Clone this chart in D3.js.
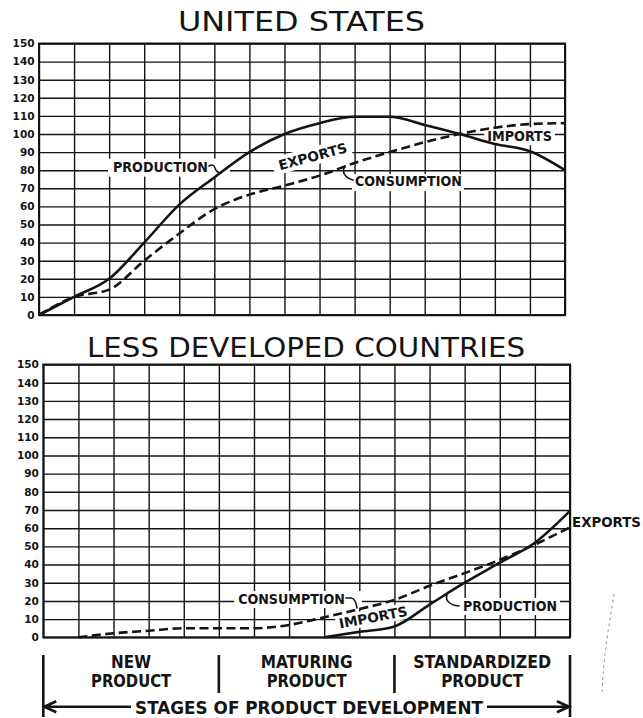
<!DOCTYPE html>
<html><head><meta charset="utf-8">
<script src="https://cdn.jsdelivr.net/npm/d3@7"></script>
<style>body{margin:0;background:#fff}svg{display:block}</style>
</head><body>
<svg id="c" width="643" height="718"></svg>
<script>
// ---------------- data ----------------
const columns = d3.range(0, 16);             // 15 time intervals of product life
const yTicks = d3.range(0, 151, 10);         // 0 ... 150
const usCols = d3.range(0, 16);
const usProduction  = [0, 10, 20, 40, 61, 76, 90, 100, 106, 109.5, 109.5, 105, 100, 94.5, 90.5, 80];
const usConsumption = [0, 10, 14, 30, 45, 58.5, 66.5, 71.5, 77, 84, 90, 95.5, 100, 103.5, 105.5, 106];
const ldcConsumptionCols = d3.range(1, 16);
const ldcConsumption = [0, 2.2, 3.6, 5, 5, 5, 6.8, 11, 15.5, 20.6, 28.3, 35.3, 42.6, 51, 60.5];
const ldcProductionCols = d3.range(8, 16);
const ldcProduction = [0, 3, 6, 18, 30, 41, 52, 69.5];
const panelTitles = ["UNITED STATES", "LESS DEVELOPED COUNTRIES"];
const stageLabels = [["NEW", "PRODUCT"], ["MATURING", "PRODUCT"], ["STANDARDIZED", "PRODUCT"]];
const stageBounds = [0, 5, 10, 15];
const axisTitle = "STAGES OF PRODUCT DEVELOPMENT";

// ---------------- drawing ----------------
const svg = d3.select("#c");
const LABEL_FONT = "'DejaVu Sans Condensed','DejaVu Sans',sans-serif";
const TITLE_FONT = "'DejaVu Sans','Liberation Sans',sans-serif";
const INK = "#141414";

function makePanel(cfg) {
  const x = d3.scaleLinear().domain([0, 15]).range([cfg.left, cfg.right]);
  const y = d3.scaleLinear().domain([0, 150]).range([cfg.bottom, cfg.top]);
  const g = svg.append("g");
  g.append("text").text(cfg.title)
    .attr("x", cfg.titleX).attr("y", cfg.titleY)
    .attr("textLength", cfg.titleW).attr("lengthAdjust", "spacingAndGlyphs")
    .attr("font-family", TITLE_FONT).attr("font-size", 27).attr("fill", INK);

  const grid = g.append("g");
  const ya = d3.axisLeft(y).tickValues(yTicks).tickSize(-(cfg.right - cfg.left))
    .tickPadding(4.5).tickFormat(d3.format("d"));
  const yg = grid.append("g").attr("transform", `translate(${cfg.left},0)`).call(ya);
  yg.select(".domain").remove();
  yg.selectAll(".tick line").attr("stroke", INK).attr("stroke-width", 1.4);
  yg.selectAll(".tick text").attr("font-family", "'DejaVu Sans',sans-serif")
    .attr("font-weight", "bold").attr("font-size", 10.5).attr("fill", INK);

  const xa = d3.axisBottom(x).tickValues(columns).tickSize(-(cfg.bottom - cfg.top)).tickFormat("");
  const xg = grid.append("g").attr("transform", `translate(0,${cfg.bottom})`).call(xa);
  xg.select(".domain").remove();
  xg.selectAll(".tick line").attr("stroke", INK).attr("stroke-width", 1.4);

  grid.append("rect").attr("x", cfg.left).attr("y", cfg.top)
    .attr("width", cfg.right - cfg.left).attr("height", cfg.bottom - cfg.top)
    .attr("fill", "none").attr("stroke", INK).attr("stroke-width", 2);

  const boxes = g.append("g");
  const lines = g.append("g");
  const labels = g.append("g");
  return { x, y, g, boxes, lines, labels };
}

function series(p, cols, vals, dashed) {
  const line = d3.line().x(d => p.x(d[0])).y(d => p.y(d[1])).curve(d3.curveMonotoneX);
  p.lines.append("path").datum(cols.map((c, i) => [c, vals[i]]))
    .attr("d", line).attr("fill", "none").attr("stroke", INK)
    .attr("stroke-width", 2.6).attr("stroke-linejoin", "round")
    .attr("stroke-dasharray", dashed ? "9,4.5" : null);
}

function label(p, a) {
  const x0 = p.x(a.c0), y0 = p.y(a.v0), x1 = p.x(a.c1), y1 = p.y(a.v1);
  const len = Math.hypot(x1 - x0, y1 - y0);
  const ang = Math.atan2(y1 - y0, x1 - x0) * 180 / Math.PI;
  const tf = `translate(${x0},${y0}) rotate(${ang})`;
  const cap = 10;
  const pl = a.pl ?? 3, pr = a.pr ?? 3, pt = a.pt ?? 4, pb = a.pb ?? 4;
  if (!a.nobox) {
    p.boxes.append("rect").attr("transform", tf)
      .attr("x", -pl).attr("y", -cap - pt).attr("width", len + pl + pr).attr("height", cap + pt + pb)
      .attr("fill", "#fff");
  }
  p.labels.append("text").attr("transform", tf).text(a.text)
    .attr("textLength", len).attr("lengthAdjust", "spacingAndGlyphs")
    .attr("font-family", LABEL_FONT).attr("font-weight", "bold").attr("font-size", 13.5)
    .attr("fill", INK);
}

function connector(p, d) {
  p.labels.append("path").attr("d", d).attr("fill", "none")
    .attr("stroke", INK).attr("stroke-width", 1.6).attr("stroke-linecap", "round");
}

// ---- United States ----
const us = makePanel({ left: 39, right: 565, top: 43.5, bottom: 315,
  title: panelTitles[0], titleX: 178, titleY: 31, titleW: 247 });
label(us, { text: "PRODUCTION", c0: 2.11, v0: 79.2, c1: 4.82, v1: 79.2, pl: 5, pr: 22, pt: 3, pb: 5 });
label(us, { text: "EXPORTS", c0: 6.87, v0: 80.0, c1: 8.81, v1: 90.1, pl: 6, pr: 4 });
label(us, { text: "IMPORTS", c0: 12.78, v0: 96, c1: 14.63, v1: 96 });
label(us, { text: "CONSUMPTION", c0: 9.01, v0: 71.2, c1: 12.06, v1: 71.2, pl: 3, pr: 2, pt: 2, pb: 5 });
series(us, usCols, usConsumption, true);
series(us, usCols, usProduction, false);
connector(us, "M209,166 c3,-2 5,-1 6,2 c1,3 3,5 6,5");
connector(us, "M345,166 c-3,5 -2,11 8,14");

// ---- Less developed countries ----
const ldc = makePanel({ left: 43.3, right: 570, top: 364.5, bottom: 637.3,
  title: panelTitles[1], titleX: 87, titleY: 357, titleW: 438 });
label(ldc, { text: "CONSUMPTION", c0: 5.55, v0: 18.3, c1: 8.59, v1: 18.3, pl: 4, pr: 17, pt: 3, pb: 4 });
label(ldc, { text: "IMPORTS", c0: 8.45, v0: 4.8, c1: 10.39, v1: 11.9, pl: 3, pr: 3, pt: 3, pb: 3 });
label(ldc, { text: "PRODUCTION", c0: 11.95, v0: 14.5, c1: 14.63, v1: 14.5, pl: 27, pr: 3, pt: 3, pb: 4 });
label(ldc, { text: "EXPORTS", c0: 15.06, v0: 60.6, c1: 17.02, v1: 60.6, nobox: true });
series(ldc, ldcConsumptionCols, ldcConsumption, true);
series(ldc, ldcProductionCols, ldcProduction, false);
connector(ldc, "M346,598 h5 c3,0 5,4 6,10");
connector(ldc, "M447,595 c-2,5 2,10 12,11");

// ---- Stages of product development ----
const st = svg.append("g");
const sx = ldc.x;
stageBounds.forEach((b, i) => {
  const outer = i === 0 || i === stageBounds.length - 1;
  st.append("line").attr("x1", sx(b)).attr("x2", sx(b))
    .attr("y1", 655).attr("y2", outer ? 717 : 693)
    .attr("stroke", INK).attr("stroke-width", 2.6);
});
const stageW = [[40, 80], [92, 80], [138, 82]];
stageLabels.forEach((lines, i) => {
  const cx = (sx(stageBounds[i]) + sx(stageBounds[i + 1])) / 2;
  lines.forEach((t, j) => {
    st.append("text").text(t).attr("x", cx).attr("y", j === 0 ? 668 : 686.5)
      .attr("text-anchor", "middle")
      .attr("textLength", stageW[i][j]).attr("lengthAdjust", "spacingAndGlyphs")
      .attr("font-family", LABEL_FONT).attr("font-weight", "bold").attr("font-size", 17)
      .attr("fill", INK);
  });
});
st.append("text").text(axisTitle).attr("x", 135).attr("y", 713.5)
  .attr("textLength", 348).attr("lengthAdjust", "spacingAndGlyphs")
  .attr("font-family", LABEL_FONT).attr("font-weight", "bold").attr("font-size", 17)
  .attr("fill", INK);
const ay = 706.7, xl = sx(0) + 1, xr = sx(15) - 1;
st.append("path").attr("d", `M${xl},${ay} H131 M${xl + 12},${ay - 5.5} L${xl},${ay} L${xl + 12},${ay + 5.5}`)
  .attr("fill", "none").attr("stroke", INK).attr("stroke-width", 2.6).attr("stroke-linejoin", "miter");
st.append("path").attr("d", `M487,${ay} H${xr} M${xr - 12},${ay - 5.5} L${xr},${ay} L${xr - 12},${ay + 5.5}`)
  .attr("fill", "none").attr("stroke", INK).attr("stroke-width", 2.6).attr("stroke-linejoin", "miter");

// faint scan mark at right margin
svg.append("path").attr("d", "M614,594 C610,620 604,650 602,692")
  .attr("fill", "none").attr("stroke", "#9a9a9a").attr("stroke-width", 1)
  .attr("stroke-dasharray", "3,3");
</script>
</body></html>
